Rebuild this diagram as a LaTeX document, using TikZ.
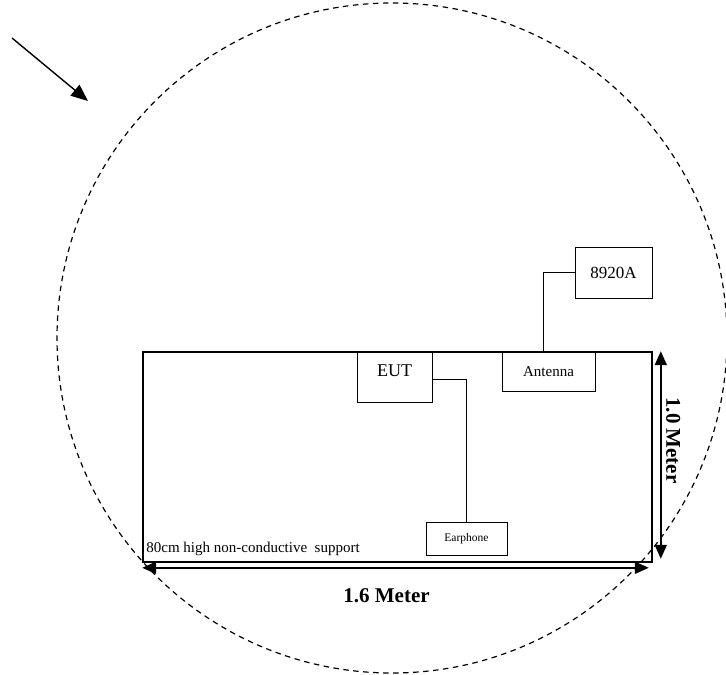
\documentclass[tikz,border=0pt]{standalone}
\usepackage{fontspec}
\setmainfont{Liberation Serif}
\usetikzlibrary{arrows.meta,positioning}
\tikzset{
  devbox/.style={draw,line width=0.9pt,inner sep=0pt,font=\fontsize{15}{17}\selectfont},
  tablebox/.style={draw,line width=1.6pt,inner sep=0pt},
  wire/.style={line width=0.9pt},
  dimarr/.style={{Triangle[length=14pt,width=12pt]}-{Triangle[length=14pt,width=12pt]},line width=1.8pt},
  dimlbl/.style={font=\bfseries\fontsize{21}{23}\selectfont},
}
\begin{document}
\begin{tikzpicture}[x=1pt,y=-1pt]
  \useasboundingbox (0,0) rectangle (726,675);

  % test area
  \draw[dash pattern=on 5.5pt off 4.5pt,line width=1.2pt] (392,338) circle [radius=335pt];
  \coordinate (arrS) at (12,38);
  \coordinate (arrE) at (88,101);
  \draw[-{Triangle[length=17pt,width=14pt]},line width=1.4pt] (arrS) -- (arrE);

  % table
  \node[tablebox,minimum width=509pt,minimum height=210pt] (table) at (397.5,457) {};
  \node[anchor=south west,inner sep=1pt,font=\fontsize{15}{17}\selectfont]
    (support) at ([xshift=3pt,yshift=6pt]table.south west) {80cm high non-conductive\ \ support};

  % equipment
  \node[devbox,minimum width=75pt,minimum height=50pt,
        label={[anchor=north,yshift=-10pt,font=\fontsize{18}{20}\selectfont]north:EUT}] (EUT) at (394.5,377) {};
  \node[devbox,minimum width=93pt,minimum height=39pt] (ANT) at (548.5,371.5) {Antenna};
  \node[devbox,minimum width=77pt,minimum height=51pt,font=\fontsize{17}{19}\selectfont] (GEN) at (613.5,272.5) {8920A};
  \node[devbox,minimum width=81pt,minimum height=33pt,font=\fontsize{11.5}{13}\selectfont] (EAR) at (466.5,538.5) {Earphone};

  % cables
  \draw[wire] (GEN.west) -| (ANT.north-|543,0);
  \draw[wire] (EUT.east|-466,379) -| (EAR.north);

  % dimensions
  \coordinate (hL) at ([yshift=-5pt]table.south west);
  \coordinate (hR) at ([xshift=-4pt,yshift=-5pt]table.south east);
  \draw[dimarr] (hL) -- node[dimlbl,below=17pt,xshift=-9pt] (hlbl) {1.6 Meter} (hR);
  \coordinate (vT) at ([xshift=8pt]table.north east);
  \coordinate (vB) at ([xshift=8pt,yshift=4pt]table.south east);
  \draw[dimarr] (vT) -- node[dimlbl,pos=0.43,right=1pt,rotate=-90,anchor=south] (vlbl) {1.0 Meter} (vB);
\end{tikzpicture}
\end{document}
